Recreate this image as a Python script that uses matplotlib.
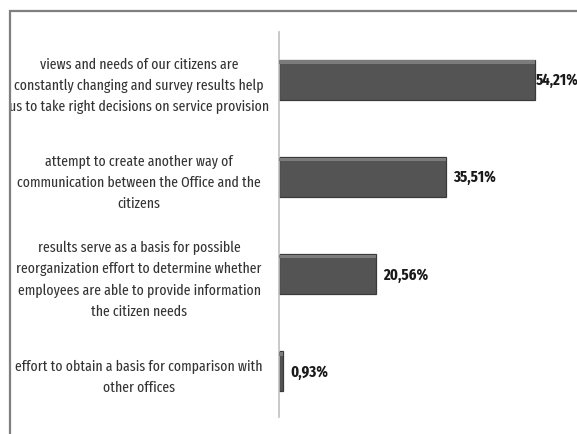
import matplotlib.pyplot as plt
from matplotlib.patches import Rectangle

plt.rcParams['font.family'] = ['Fira Sans Extra Condensed', 'DejaVu Sans']

# survey answers (top to bottom) and their shares in percent
reasons = [
    "views and needs of our citizens are\nconstantly changing and survey results help\nus to take right decisions on service provision",
    "attempt to create another way of\ncommunication between the Office and the\ncitizens",
    "results serve as a basis for possible\nreorganization effort to determine whether\nemployees are able to provide information\nthe citizen needs",
    "effort to obtain a basis for comparison with\nother offices",
]
shares = [54.21, 35.51, 20.56, 0.93]
share_labels = ["54,21%", "35,51%", "20,56%", "0,93%"]

W, H = 577, 435
fig = plt.figure(figsize=(W / 100, H / 100), dpi=100)

ax = fig.add_axes([279 / W, 17 / H, 283 / W, 385 / H])
pos = range(len(reasons))
ax.barh(pos, shares, height=0.41, color='#545454', edgecolor='#3a3a3a', linewidth=0.9, zorder=2)
# light bevel along the top of each bar
ax.barh([p - 0.18 for p in pos], shares, height=0.035, color='#7c7c7c', linewidth=0, zorder=3)

ax.set_xlim(0, 60)
ax.set_ylim(3.47, -0.49)
for s in ['top', 'right', 'bottom']:
    ax.spines[s].set_visible(False)
ax.spines['left'].set_color('#c0c0c0')
ax.spines['left'].set_linewidth(1.2)
ax.set_xticks([])
ax.set_yticks(list(pos))
ax.set_yticklabels(reasons, ha='center', fontsize=10.8, color='#333333', linespacing=1.6)
ax.tick_params(axis='y', length=0, pad=140 * 72 / 100)

for p, v, lab in zip(pos, shares, share_labels):
    ax.annotate(lab, (v, p), xytext=(1 if v > 50 else 5, 0), textcoords='offset points',
                va='center', ha='left', fontsize=11.5, fontweight='bold', color='#1a1a1a',
                annotation_clip=False)

# outer chart frame, running off the right and bottom edges; drawn over the
# long first label so its left end is hidden under the frame
frame = Rectangle((9.5 / W, -0.05), 1.2, (H - 11.5) / H + 0.05,
                  transform=fig.transFigure, fill=False,
                  edgecolor='#7f7f7f', linewidth=1.6, zorder=10)
fig.add_artist(frame)

fig.savefig('out.png', dpi=100)
